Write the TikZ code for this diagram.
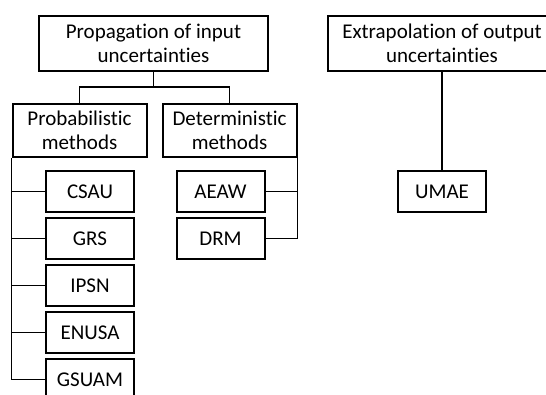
\documentclass[tikz,border=0pt]{standalone}
\usepackage{fontspec}
\setmainfont[Ligatures=NoCommon]{Carlito}
\begin{document}
\begin{tikzpicture}[x=1pt,y=-1pt,
  box/.style={draw, line width=2pt, inner sep=0pt, align=center,
    font=\fontsize{21}{24}\selectfont},
  wide/.style={box, minimum width=229pt, minimum height=55pt},
  mid/.style={box, minimum width=134pt, minimum height=53pt},
  leaf/.style={box, minimum width=88pt, minimum height=41pt},
  link/.style={line width=1.8pt}]
\useasboundingbox (0,0) rectangle (546,394);
\clip (0,0) rectangle (546,394);

% top-level groups
\node[wide] (prop) at (153.5,43.5) {Propagation of input\\uncertainties};
\node[wide] (extr) at (442,43.5) {Extrapolation of output\\uncertainties};

% method families
\node[mid] (prob) at (79.5,130.5) {Probabilistic\\methods};
\node[mid] (det) at (229.5,130.5) {Deterministic\\methods};

% probabilistic methods
\node[leaf] (csau) at (90,191.5) {CSAU};
\node[leaf] (grs) at (90,238.5) {GRS};
\node[leaf] (ipsn) at (90,285.5) {IPSN};
\node[leaf] (enusa) at (90,332.5) {ENUSA};
\node[leaf] (gsuam) at (90,379.5) {GSUAM};

% deterministic methods
\node[leaf] (aeaw) at (220.5,191.5) {AEAW};
\node[leaf] (drm) at (220.5,238.5) {DRM};

% extrapolation method
\node[leaf] (umae) at (442,191.5) {UMAE};

% tree from the propagation box
\coordinate (fork) at (prop.south |- 0,87);
\draw[link] (prop.south) -- (fork);
\draw[link] (prob.north) |- (fork) -| (det.north);

% left rail for probabilistic methods
\coordinate (lrail) at (prob.south west);
\draw[link] (lrail) |- (gsuam.west);
\foreach \n in {csau,grs,ipsn,enusa}
  \draw[link] (lrail |- \n.west) -- (\n.west);

% right rail for deterministic methods
\coordinate (rrail) at (det.south east);
\draw[link] (rrail) |- (drm.east);
\draw[link] (rrail |- aeaw.east) -- (aeaw.east);

% extrapolation link
\draw[link] (extr.south) -- (umae.north);
\end{tikzpicture}
\end{document}
